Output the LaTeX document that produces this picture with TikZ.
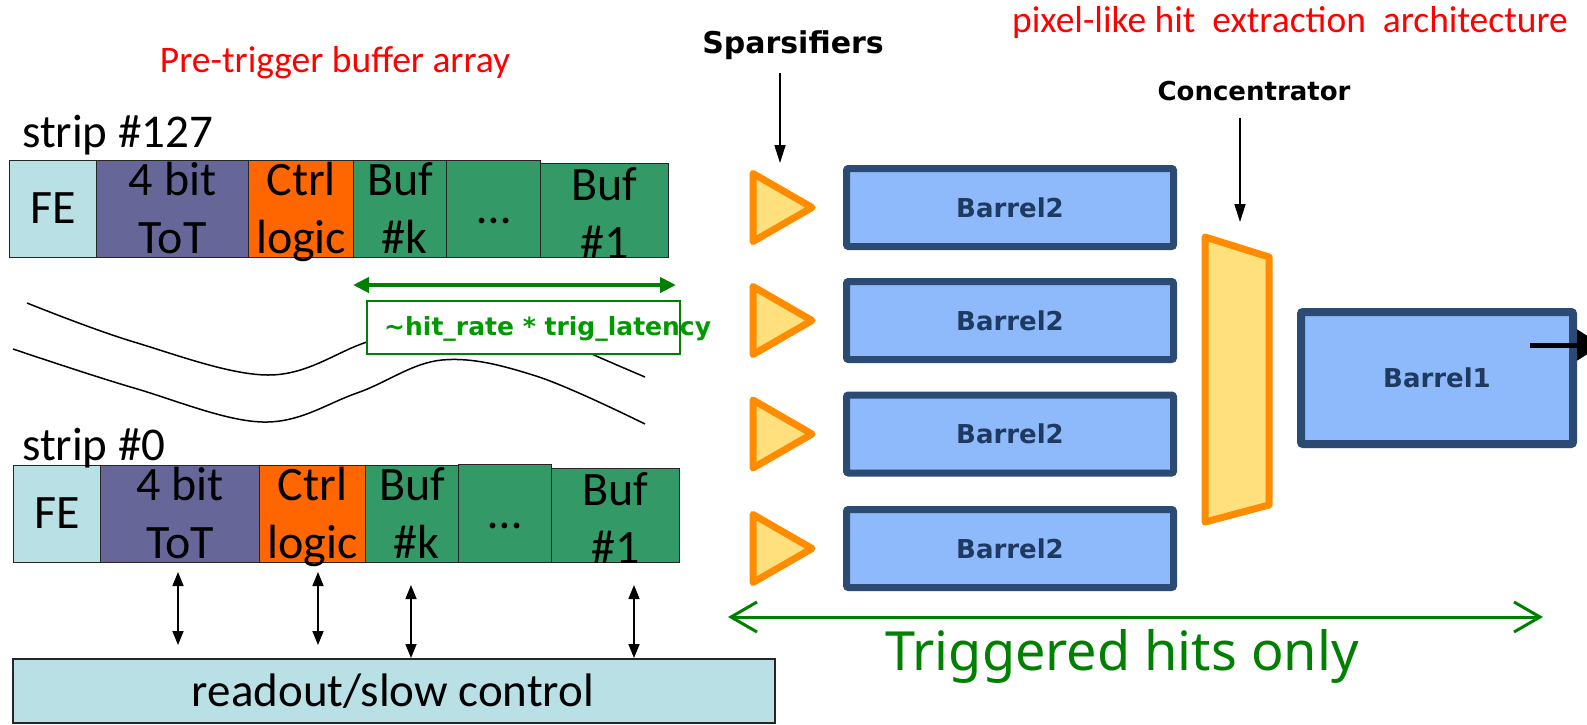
\documentclass[tikz,border=0pt]{standalone}
\usepackage{fontspec}
\setmainfont{Carlito}
\newfontfamily\dvfont{DejaVu Sans}
\newfontfamily\dvbfont{DejaVu Sans Bold}
\newfontfamily\notofont{Noto Sans}
\usetikzlibrary{arrows.meta}
\definecolor{fec}{HTML}{B9E0E4}
\definecolor{totc}{HTML}{666699}
\definecolor{ctrlc}{HTML}{FF6600}
\definecolor{bufc}{HTML}{339966}
\definecolor{barfill}{HTML}{8EB9FA}
\definecolor{barline}{HTML}{2B4B72}
\definecolor{bartext}{HTML}{1F3A60}
\definecolor{orng}{HTML}{FF8C00}
\definecolor{ylw}{HTML}{FFE07D}
\definecolor{grn}{HTML}{008000}
\definecolor{grntext}{HTML}{009900}
\begin{document}
\begin{tikzpicture}[x=1pt,y=-1pt,
  cell/.style={draw=black!85, line width=1.3pt, inner sep=0pt, anchor=north west, minimum height=97pt},
  ctext/.style={anchor=base, inner sep=0pt, font=\fontsize{48}{56}\selectfont},
  lbl/.style={anchor=base west, inner sep=0pt, font=\fontsize{47}{56}\selectfont},
  redt/.style={anchor=base, inner sep=0pt, text=red, font=\fontsize{37.5}{45}\selectfont},
  curve/.style={line width=1.5pt, black},
  dbl/.style={line width=1.6pt, {Triangle[length=14pt,width=11pt]}-{Triangle[length=14pt,width=11pt]}},
  downarr/.style={line width=1.6pt, -{Triangle[length=18pt,width=11pt]}},
  bar/.style={draw=barline, line width=7pt, fill=barfill, rounded corners=2pt, inner sep=0pt,
     minimum width=327pt, minimum height=78pt, text=bartext, font=\dvbfont\fontsize{26}{30}\selectfont},
  spars/.style={draw=orng, fill=ylw, line width=7pt, line join=round},
  hdr/.style={anchor=base, inner sep=0pt, font=\dvbfont\fontsize{26}{30}\selectfont}
]
\useasboundingbox (0,0) rectangle (1587,724);
\fill[white] (0,0) rectangle (1587,724);
\clip (0,0) rectangle (1587,724);

% titles
\node[redt] (pretitle) at (335,72) {Pre-trigger buffer array};
\node[redt] (pixtitle) at (1290,32) {pixel-like hit\ \ extraction\ \ architecture};

% ---------- strip #127 ----------
\node[lbl] (s127) at (22,147) {strip \#127};
\node[cell, fill=fec,  minimum width=87pt]  (a-fe)   at (9,160) {};
\node[cell, fill=totc, minimum width=152pt] (a-tot)  at (96,160) {};
\node[cell, fill=ctrlc,minimum width=105pt] (a-ctrl) at (248,160) {};
\node[cell, fill=bufc, minimum width=93pt]  (a-bk)   at (353,160) {};
\node[cell, fill=bufc, minimum width=94pt]  (a-dots) at (446,160) {};
\node[cell, fill=bufc, minimum width=128pt, minimum height=94pt] (a-b1) at (540,163) {};

\node[ctext, yshift=-14.5pt] (a-fe-t) at (a-fe.center) {FE};
\node[ctext, yshift=13.5pt]  (a-tot-1) at (a-tot.center) {4 bit};
\node[ctext, yshift=-44.5pt] (a-tot-2) at (a-tot.center) {ToT};
\node[ctext, yshift=13.5pt]  (a-ctrl-1) at (a-ctrl.center) {Ctrl};
\node[ctext, yshift=-44.5pt] (a-ctrl-2) at (a-ctrl.center) {logic};
\node[ctext, yshift=13.5pt]  (a-bk-1) at (a-bk.center) {Buf};
\node[ctext, yshift=-44.5pt, xshift=4pt] (a-bk-2) at (a-bk.center) {\#k};
\node[ctext, yshift=-14.5pt] (a-dots-t) at (a-dots.center) {…};
\node[ctext, yshift=10.5pt]  (a-b1-1) at (a-b1.center) {Buf};
\node[ctext, yshift=-47.5pt] (a-b1-2) at (a-b1.center) {\#1};

% ---------- curves & latency box ----------
\draw[curve] plot[smooth, tension=0.6] coordinates {(13,349) (134,388) (263,422) (357,393) (442,360) (536,376) (645,424)};
\draw[curve] plot[smooth, tension=0.6] coordinates {(27,303) (134,342) (268,375) (364,343) (446,313) (540,330) (594,355) (645,377)};

\coordinate (latL) at (353,285);
\coordinate (latR) at (676,285);
\draw[grn, line width=4pt, {Triangle[length=16pt,width=15pt]}-{Triangle[length=16pt,width=15pt]}] (latL) -- (latR);
\node[draw=grn, line width=2pt, fill=white, anchor=north west, minimum width=313pt, minimum height=53pt, inner sep=0pt] (latbox) at (366,300) {};
\node[anchor=base west, inner sep=0pt, text=grntext, font=\dvbfont\fontsize{25}{30}\selectfont] (lattext) at (384,335) {\textasciitilde hit\_rate * trig\_latency};

% ---------- strip #0 ----------
\node[cell, fill=fec,  minimum width=87pt]  (b-fe)   at (13,465) {};
\node[cell, fill=totc, minimum width=159pt] (b-tot)  at (100,465) {};
\node[cell, fill=ctrlc,minimum width=106pt] (b-ctrl) at (259,465) {};
\node[cell, fill=bufc, minimum width=93pt]  (b-bk)   at (365,465) {};
\node[cell, fill=bufc, minimum width=93pt, minimum height=98pt] (b-dots) at (458,464) {};
\node[cell, fill=bufc, minimum width=128pt, minimum height=94pt] (b-b1) at (551,468) {};
\node[lbl] (s0) at (22,460) {strip \#0};

\node[ctext, yshift=-14.5pt] (b-fe-t) at (b-fe.center) {FE};
\node[ctext, yshift=13.5pt]  (b-tot-1) at (b-tot.center) {4 bit};
\node[ctext, yshift=-44.5pt] (b-tot-2) at (b-tot.center) {ToT};
\node[ctext, yshift=13.5pt]  (b-ctrl-1) at (b-ctrl.center) {Ctrl};
\node[ctext, yshift=-44.5pt] (b-ctrl-2) at (b-ctrl.center) {logic};
\node[ctext, yshift=13.5pt]  (b-bk-1) at (b-bk.center) {Buf};
\node[ctext, yshift=-44.5pt, xshift=4pt] (b-bk-2) at (b-bk.center) {\#k};
\node[ctext, yshift=-14.5pt] (b-dots-t) at (b-dots.center) {…};
\node[ctext, yshift=10.5pt]  (b-b1-1) at (b-b1.center) {Buf};
\node[ctext, yshift=-47.5pt] (b-b1-2) at (b-b1.center) {\#1};

% ---------- readout ----------
\node[draw=black!85, line width=1.5pt, fill=fec, anchor=north west, minimum width=762pt, minimum height=64pt, inner sep=0pt] (ro) at (12,658) {};
\node[anchor=base, inner sep=0pt, font=\fontsize{47}{56}\selectfont] (ro-t) at (393,706) {readout/slow control};

\coordinate (v1) at (178,572);
\coordinate (v2) at (318,572);
\coordinate (v3) at (411,585);
\coordinate (v4) at (634,585);
\draw[dbl] (v1) -- (178,645);
\draw[dbl] (v2) -- (318,645);
\draw[dbl] (v3) -- (v3 |- ro.north);
\draw[dbl] (v4) -- (v4 |- ro.north);

% ---------- right architecture ----------
\node[anchor=base, inner sep=0pt, font=\dvbfont\fontsize{30}{34}\selectfont] (sparsT) at (793,53) {Sparsifiers};
\node[hdr] (concT) at (1254,100) {Concentrator};

\foreach \c/\n in {207.5/1,320.5/2,434/3,548.5/4}{
  \draw[spars] (753,\c-34) -- (812,\c) -- (753,\c+34) -- cycle;
  \node[bar] (bar\n) at (1010,\c) {Barrel2};
}
\coordinate (sparsA) at (780,73);
\coordinate (sparsB) at (780,163);
\draw[downarr] (sparsA) -- (sparsB);

\draw[draw=orng, fill=ylw, line width=7pt, line join=round] (1205,237) -- (1269,257) -- (1269,505) -- (1205,522) -- cycle;
\coordinate (concA) at (1240,118);
\coordinate (concB) at (1240,222);
\draw[downarr] (concA) -- (concB);

\node[bar, line width=8pt, minimum width=272pt, minimum height=132pt] (bar0) at (1437,378) {Barrel1};
\coordinate (outS) at (1530,345);
\coordinate (outE) at (1602,345);
\draw[line width=5pt, -{Triangle[length=25pt,width=30pt]}] (outS) -- (outE);

\coordinate (trigL) at (728,617);
\coordinate (trigR) at (1543,617);
\draw[grn, line width=3pt, {Straight Barb[length=26pt,width=30pt,line width=3pt]}-{Straight Barb[length=26pt,width=30pt,line width=3pt]}] (trigL) -- (trigR);
\node[anchor=base, inner sep=0pt, text=grn, font=\notofont\fontsize{54}{60}\selectfont] (trigT) at (1122,670) {Triggered hits only};

\end{tikzpicture}
\end{document}
